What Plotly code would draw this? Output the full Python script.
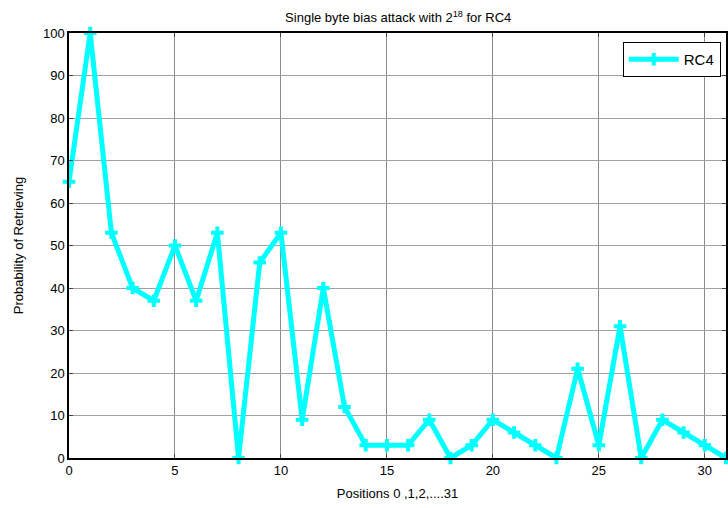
import plotly.graph_objects as go

positions = list(range(32))
rc4 = [65, 100, 53, 40, 37, 50, 37, 53, 0, 46, 53, 9, 40, 12, 3, 3,
       3, 9, 0, 3, 9, 6, 3, 0, 21, 3, 31, 0, 9, 6, 3, 0]
x_ticks = [0, 5, 10, 15, 20, 25, 30]
y_ticks = list(range(0, 101, 10))

fig = go.Figure()
fig.add_trace(go.Scatter(
    x=positions, y=rc4, mode="lines+markers", name="RC4",
    line=dict(color="#00FFFF", width=5),
    marker=dict(symbol="cross-thin-open", size=9,
                line=dict(color="#00FFFF", width=4), color="#00FFFF"),
    cliponaxis=False,
))

font = "Liberation Sans, Arial, sans-serif"
fig.update_layout(
    width=728, height=508,
    margin=dict(l=69, r=0, t=33, b=50),
    paper_bgcolor="white", plot_bgcolor="white",
    font=dict(family=font, size=13, color="black"),
    title=dict(text="Single byte bias attack with 2<sup>18</sup> for RC4",
               x=0.547, xanchor="center", y=0.965, yanchor="middle",
               font=dict(size=13, family=font)),
    showlegend=True,
    legend=dict(x=0.992, xanchor="right", y=0.979, yanchor="top",
                bordercolor="black", borderwidth=1, bgcolor="white",
                itemwidth=50,
                font=dict(size=15, family=font)),
)
fig.update_xaxes(
    range=[0, 31], tickvals=x_ticks, ticks="inside", ticklen=4,
    showgrid=True, gridcolor="#8c8c8c", gridwidth=1,
    showline=True, linecolor="black", linewidth=1.5, mirror="ticks",
    zeroline=False,
    title=dict(text="Positions 0 ,1,2,....31", standoff=12, font=dict(size=13)),
)
fig.update_yaxes(
    range=[0, 100], tickvals=y_ticks, ticks="inside", ticklen=4,
    showgrid=True, gridcolor="#a0a0a0", gridwidth=1,
    showline=True, linecolor="black", linewidth=1.5, mirror="ticks",
    zeroline=False,
    title=dict(text="Probability of Retrieving", standoff=16, font=dict(size=13)),
)
fig.write_html("out.html")
